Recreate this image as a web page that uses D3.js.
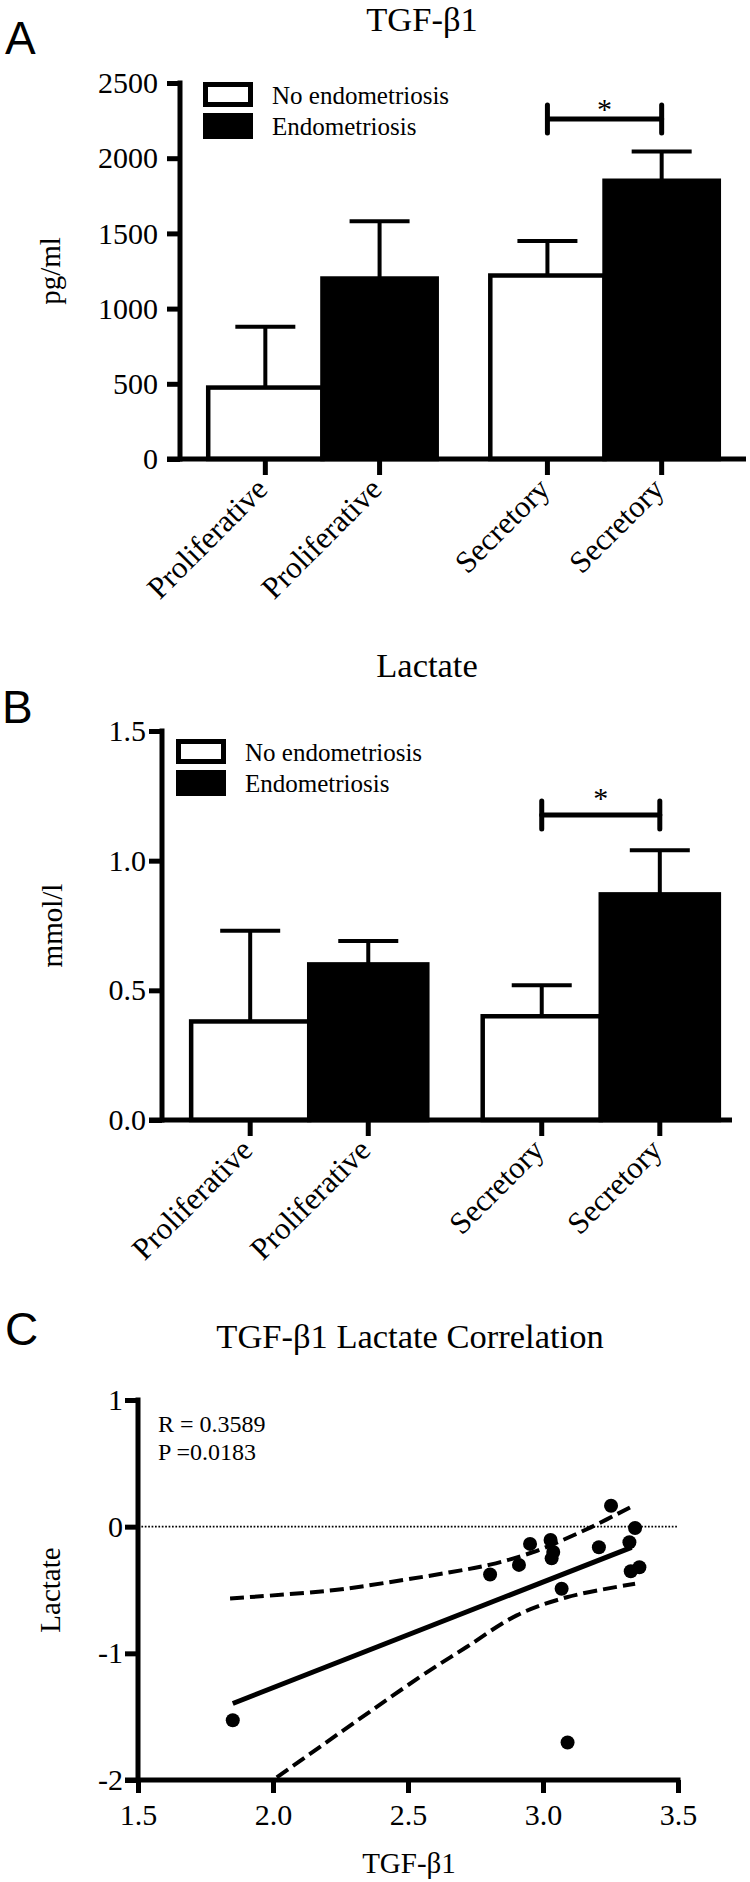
<!DOCTYPE html>
<html>
<head>
<meta charset="utf-8">
<script src="https://cdn.jsdelivr.net/npm/d3@7"></script>
<style>
  body { margin: 0; background: #fff; }
  svg { display: block; }
</style>
</head>
<body>
<svg id="fig" width="750" height="1882"></svg>
<script>
/* ---- data ---- */
const phases = ["Proliferative", "Secretory"];
const groups = ["No endometriosis", "Endometriosis"];

// TGF-β1, pg/ml  [phase][group]
const tgfMean = [[475, 1200], [1220, 1850]];
const tgfSem  = [[405, 380], [230, 195]];
const tgfTicks = [0, 500, 1000, 1500, 2000, 2500];

// Lactate, mmol/l  [phase][group]
const lacMean = [[0.38, 0.60], [0.40, 0.87]];
const lacSem  = [[0.35, 0.09], [0.12, 0.17]];
const lacTicks = [0, 0.5, 1.0, 1.5];

// correlation (panel C)
const corrX = [1.851, 2.804, 2.911, 2.952, 3.028, 3.038, 3.032, 3.069, 3.091, 3.207, 3.252, 3.320, 3.341, 3.325, 3.357];
const corrY = [-1.528, -0.378, -0.302, -0.136, -0.105, -0.20, -0.25, -0.49, -1.704, -0.163, 0.165, -0.123, -0.01, -0.352, -0.32];
const fitLine = [[1.851, -1.396], [3.328, -0.163]];
const bandUpper = [[1.841, -0.567], [2.229, -0.50], [2.470, -0.425], [2.656, -0.36], [2.804, -0.30], [2.964, -0.20], [3.162, -0.02], [3.341, 0.173]];
const bandLower = [[2.014, -1.98], [2.544, -1.187], [2.717, -0.95], [2.903, -0.70], [3.088, -0.557], [3.341, -0.451]];
const corrXTicks = [1.5, 2.0, 2.5, 3.0, 3.5];
const corrYTicks = [-2, -1, 0, 1];
const corrStats = ["R = 0.3589", "P =0.0183"];

const SERIF = "'Liberation Serif', 'Times New Roman', serif";
const SANS = "'Liberation Sans', Arial, sans-serif";

const svg = d3.select("#fig");
svg.append("rect").attr("width", 750).attr("height", 1882).attr("fill", "#fff");

function panelLetter(txt, x, y) {
  svg.append("text").attr("x", x).attr("y", y)
    .attr("font-family", SANS).attr("font-size", 46).text(txt);
}

function barPanel(c) {
  const g = svg.append("g");
  const y = d3.scaleLinear().domain([0, c.yMax]).range([c.y0, c.yTop]);
  const x0 = d3.scaleBand().domain(phases).range(c.xRange).paddingInner(0.19).paddingOuter(0.1);
  const x1 = d3.scaleBand().domain(groups).range([0, x0.bandwidth()]);

  const rows = [];
  phases.forEach((p, i) => groups.forEach((gr, j) => rows.push({
    phase: p, group: gr, mean: c.mean[i][j], sem: c.sem[i][j],
    x: x0(p) + x1(gr), cx: x0(p) + x1(gr) + x1.bandwidth() / 2
  })));

  // title
  g.append("text").attr("x", c.titleX).attr("y", c.titleY)
    .attr("text-anchor", "middle").attr("font-family", SERIF).attr("font-size", 34.5)
    .text(c.title);

  // error bars (upper only)
  g.selectAll(".err").data(rows).enter().append("line")
    .attr("x1", d => d.cx).attr("x2", d => d.cx)
    .attr("y1", d => y(d.mean)).attr("y2", d => y(d.mean + d.sem))
    .attr("stroke", "#000").attr("stroke-width", 4);
  g.selectAll(".cap").data(rows).enter().append("line")
    .attr("x1", d => d.cx - 30).attr("x2", d => d.cx + 30)
    .attr("y1", d => y(d.mean + d.sem)).attr("y2", d => y(d.mean + d.sem))
    .attr("stroke", "#000").attr("stroke-width", 4);

  // bars
  g.selectAll(".bar").data(rows).enter().append("rect")
    .attr("x", d => d.x).attr("width", x1.bandwidth())
    .attr("y", d => y(d.mean)).attr("height", d => y(0) - y(d.mean))
    .attr("fill", d => d.group === groups[0] ? "#fff" : "#000")
    .attr("stroke", "#000").attr("stroke-width", 4.5);

  // y axis
  const ya = g.append("g").attr("transform", `translate(${c.axX},0)`)
    .call(d3.axisLeft(y).tickValues(c.ticks).tickFormat(c.fmt)
      .tickSize(13).tickPadding(c.tickPad).tickSizeOuter(0));
  ya.select(".domain").remove();
  ya.selectAll(".tick line").attr("stroke-width", 5);
  ya.selectAll("text").attr("font-family", SERIF).attr("font-size", 30).attr("fill", "#000");
  g.append("line").attr("x1", c.axX).attr("x2", c.axX)
    .attr("y1", y(c.yMax) - 2.5).attr("y2", y(0) + 2.5)
    .attr("stroke", "#000").attr("stroke-width", 5);

  // x axis
  g.append("line").attr("x1", c.axX - 13).attr("x2", c.xEnd)
    .attr("y1", y(0)).attr("y2", y(0))
    .attr("stroke", "#000").attr("stroke-width", 5);
  g.selectAll(".xt").data(rows).enter().append("line")
    .attr("x1", d => d.cx).attr("x2", d => d.cx)
    .attr("y1", y(0)).attr("y2", y(0) + 16)
    .attr("stroke", "#000").attr("stroke-width", 5);
  g.selectAll(".xl").data(rows).enter().append("text")
    .attr("transform", d => `translate(${d.cx + 4},${y(0) + 32}) rotate(-45)`)
    .attr("text-anchor", "end").attr("font-family", SERIF).attr("font-size", 31)
    .text(d => d.phase);

  // y label
  g.append("text")
    .attr("transform", `translate(${c.yLabX},${(y(0) + y(c.yMax)) / 2}) rotate(-90)`)
    .attr("text-anchor", "middle").attr("font-family", SERIF).attr("font-size", 29)
    .text(c.yLabel);

  // legend
  const lg = g.append("g");
  lg.append("rect").attr("x", c.legX + 2.5).attr("y", c.legY + 2.5)
    .attr("width", 45).attr("height", 20)
    .attr("fill", "#fff").attr("stroke", "#000").attr("stroke-width", 5);
  lg.append("rect").attr("x", c.legX).attr("y", c.legY + 31)
    .attr("width", 50).attr("height", 26).attr("fill", "#000");
  groups.forEach((gr, i) => {
    lg.append("text").attr("x", c.legX + 69).attr("y", c.legY + 21.5 + i * 31.5)
      .attr("font-family", SERIF).attr("font-size", 25).text(gr);
  });

  // significance bracket between secretory bars
  const bx1 = rows[2].cx, bx2 = rows[3].cx;
  const br = g.append("g").attr("stroke", "#000").attr("stroke-width", 5).attr("stroke-linecap", "round");
  br.append("line").attr("x1", bx1).attr("x2", bx2).attr("y1", c.brY).attr("y2", c.brY);
  [bx1, bx2].forEach(bx => br.append("line").attr("x1", bx).attr("x2", bx)
    .attr("y1", c.brY - 14).attr("y2", c.brY + 14));
  g.append("text").attr("x", (bx1 + bx2) / 2).attr("y", c.starY)
    .attr("text-anchor", "middle").attr("font-family", SERIF).attr("font-size", 30).text("*");
}

/* ---- panel A ---- */
panelLetter("A", 5, 54);
barPanel({
  title: "TGF-\u03b21", titleX: 422, titleY: 31,
  yMax: 2500, y0: 459, yTop: 83, ticks: tgfTicks, fmt: d3.format("d"), tickPad: 9,
  mean: tgfMean, sem: tgfSem,
  axX: 180, xRange: [180, 747], xEnd: 746,
  yLabel: "pg/ml", yLabX: 60,
  legX: 203, legY: 82,
  brY: 119, starY: 119
});

/* ---- panel B ---- */
panelLetter("B", 2, 723);
barPanel({
  title: "Lactate", titleX: 427, titleY: 677,
  yMax: 1.5, y0: 1120, yTop: 731, ticks: lacTicks, fmt: d3.format(".1f"), tickPad: 3,
  mean: lacMean, sem: lacSem,
  axX: 162, xRange: [162, 748], xEnd: 732,
  yLabel: "mmol/l", yLabX: 62,
  legX: 176, legY: 739,
  brY: 815, starY: 808
});

/* ---- panel C ---- */
panelLetter("C", 5, 1345);
(function () {
  const g = svg.append("g");
  const x = d3.scaleLinear().domain([1.5, 3.5]).range([138, 678]);
  const y = d3.scaleLinear().domain([-2, 1]).range([1780, 1400]);

  g.append("text").attr("x", 410).attr("y", 1348).attr("text-anchor", "middle")
    .attr("font-family", SERIF).attr("font-size", 34.5).text("TGF-\u03b21 Lactate Correlation");

  // zero reference line
  g.append("line").attr("x1", x(1.5)).attr("x2", x(3.5)).attr("y1", y(0)).attr("y2", y(0))
    .attr("stroke", "#000").attr("stroke-width", 1.6).attr("stroke-dasharray", "1.7,1.7");

  const curve = d3.line().x(d => x(d[0])).y(d => y(d[1])).curve(d3.curveCatmullRom);
  [bandUpper, bandLower].forEach(b => g.append("path").attr("d", curve(b))
    .attr("fill", "none").attr("stroke", "#000").attr("stroke-width", 4)
    .attr("stroke-dasharray", "14,6"));
  g.append("path").attr("d", d3.line().x(d => x(d[0])).y(d => y(d[1]))(fitLine))
    .attr("fill", "none").attr("stroke", "#000").attr("stroke-width", 5);

  g.selectAll(".pt").data(corrX.map((v, i) => [v, corrY[i]])).enter().append("circle")
    .attr("cx", d => x(d[0])).attr("cy", d => y(d[1])).attr("r", 7).attr("fill", "#000");

  // axes
  const xa = g.append("g").attr("transform", `translate(0,${y(-2)})`)
    .call(d3.axisBottom(x).tickValues(corrXTicks).tickFormat(d3.format(".1f"))
      .tickSize(13).tickPadding(11).tickSizeOuter(0));
  xa.select(".domain").remove();
  const ya = g.append("g").attr("transform", `translate(${x(1.5)},0)`)
    .call(d3.axisLeft(y).tickValues(corrYTicks).tickFormat(d => String(d))
      .tickSize(13).tickPadding(2).tickSizeOuter(0));
  ya.select(".domain").remove();
  [xa, ya].forEach(a => {
    a.selectAll(".tick line").attr("stroke-width", 5);
    a.selectAll("text").attr("font-family", SERIF).attr("font-size", 30).attr("fill", "#000");
  });
  g.append("line").attr("x1", x(1.5) - 13).attr("x2", x(3.5) + 2.5).attr("y1", y(-2)).attr("y2", y(-2))
    .attr("stroke", "#000").attr("stroke-width", 5);
  g.append("line").attr("x1", x(1.5)).attr("x2", x(1.5)).attr("y1", y(1) - 2.5).attr("y2", y(-2))
    .attr("stroke", "#000").attr("stroke-width", 5);

  g.append("text").attr("x", 409).attr("y", 1873).attr("text-anchor", "middle")
    .attr("font-family", SERIF).attr("font-size", 29).text("TGF-\u03b21");
  g.append("text").attr("transform", `translate(60,${(y(1) + y(-2)) / 2}) rotate(-90)`)
    .attr("text-anchor", "middle").attr("font-family", SERIF).attr("font-size", 29).text("Lactate");

  corrStats.forEach((s, i) => g.append("text").attr("x", 158).attr("y", 1432 + i * 28)
    .attr("font-family", SERIF).attr("font-size", 24).text(s));
})();
</script>
</body>
</html>
